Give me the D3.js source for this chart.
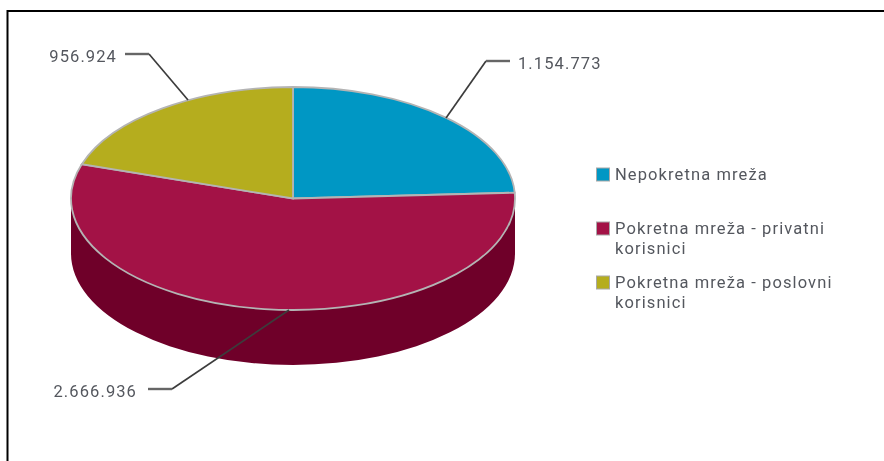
<!DOCTYPE html>
<meta charset="utf-8">
<style>
body, html {
  margin: 0;
  padding: 0;
  background: #fff;
}
svg {
  display: block;
  filter: blur(0.6px);
}
.label, .legend-label {
  font-family: "Roboto", sans-serif;
  font-size: 16.5px;
  fill: #54575e;
  letter-spacing: 1.1px;
}
.leader {
  fill: none;
  stroke: #3c3c3c;
  stroke-width: 1.7px;
}
.leader-end {
  fill: none;
  stroke: #666;
  stroke-width: 2.4px;
}
.slice {
  stroke: #b4b4b4;
  stroke-width: 1.8px;
  vector-effect: non-scaling-stroke;
}
</style>
<div id="svg-div"></div>
<script src="https://d3js.org/d3.v7.min.js"></script>
<script>
const categories = ["Nepokretna mreža", "Pokretna mreža - privatni korisnici", "Pokretna mreža - poslovni korisnici"]
const values = [1154773, 2666936, 956924]
const colors = ["#0097c4", "#a31246", "#b5ad1e"]
const wallColors = ["#005f7c", "#6f0029", "#6e6910"]
const legendLines = [["Nepokretna mreža"], ["Pokretna mreža - privatni", "korisnici"], ["Pokretna mreža - poslovni", "korisnici"]]

const width = 884
const height = 461
const cx = 293, cy = 198.5, rx = 222, ry = 111.5, depth = 55

const svg = d3.select("#svg-div").append("svg")
  .attr("width", width)
  .attr("height", height)

// frame, only top and left show in the picture
svg.append("path")
  .attr("d", "M7.5," + height + "V11H" + width)
  .attr("fill", "none")
  .attr("stroke", "#000")
  .attr("stroke-width", 2)

const slices = d3.pie().sort(null)(values)

// side wall: only the part of a slice that faces the viewer
function wallPath(a0, a1) {
  const x0 = cx + rx * Math.sin(a0), y0 = cy - ry * Math.cos(a0)
  const x1 = cx + rx * Math.sin(a1), y1 = cy - ry * Math.cos(a1)
  const p = "M" + x0 + "," + y0 +
    "A" + rx + "," + ry + " 0 0 1 " + x1 + "," + y1 +
    "L" + x1 + "," + (y1 + depth) +
    "A" + rx + "," + ry + " 0 0 0 " + x0 + "," + (y0 + depth) + "Z"
  return p
}

svg.append("g").selectAll("path")
  .data(slices.filter(d => d.endAngle > Math.PI / 2 && d.startAngle < 3 * Math.PI / 2))
  .enter().append("path")
  .attr("d", d => wallPath(Math.max(d.startAngle, Math.PI / 2), Math.min(d.endAngle, 3 * Math.PI / 2)))
  .attr("fill", d => wallColors[d.index])

const arc = d3.arc().innerRadius(0).outerRadius(rx)

svg.append("g")
  .attr("transform", "translate(" + cx + "," + cy + ") scale(1," + ry / rx + ")")
  .selectAll("path")
  .data(slices)
  .enter().append("path")
  .attr("class", "slice")
  .attr("d", arc)
  .attr("fill", d => colors[d.index])

// value labels with their elbow lines
const fmt = d3.formatLocale({ decimal: ",", thousands: ".", grouping: [3], currency: ["", ""] }).format(",d")
const leaders = [
  { pts: [[446, 118], [486, 61]], end: [[486, 61], [510, 61]], x: 518, y: 68.5, anchor: "start" },
  { pts: [[289, 310], [172, 389]], end: [[172, 389], [148, 389]], x: 137, y: 397, anchor: "end" },
  { pts: [[188, 100], [149, 54]], end: [[149, 54], [125, 54]], x: 117, y: 61.5, anchor: "end" }
]

svg.append("g").selectAll("path")
  .data(leaders)
  .enter().append("path")
  .attr("class", "leader")
  .attr("d", d => d3.line()(d.pts))

svg.append("g").selectAll("path")
  .data(leaders)
  .enter().append("path")
  .attr("class", "leader-end")
  .attr("d", d => d3.line()(d.end))

svg.append("g").selectAll("text")
  .data(leaders)
  .enter().append("text")
  .attr("class", "label")
  .attr("x", d => d.x)
  .attr("y", d => d.y)
  .attr("text-anchor", d => d.anchor)
  .text((d, i) => fmt(values[i]))

// legend
const legendTops = [167.5, 221.5, 275.5]

const legend = svg.append("g").selectAll("g")
  .data(categories)
  .enter().append("g")
  .attr("transform", (d, i) => "translate(596," + legendTops[i] + ")")

legend.append("rect")
  .attr("x", 0.5).attr("y", 0.5)
  .attr("width", 13).attr("height", 13)
  .attr("fill", (d, i) => colors[i])
  .attr("stroke", "#a8a8a8")

legend.each(function(d, i) {
  d3.select(this).selectAll("text")
    .data(legendLines[i])
    .enter().append("text")
    .attr("class", "legend-label")
    .attr("x", 19)
    .attr("y", (l, j) => 12.5 + j * 20)
    .text(l => l)
})
</script>
